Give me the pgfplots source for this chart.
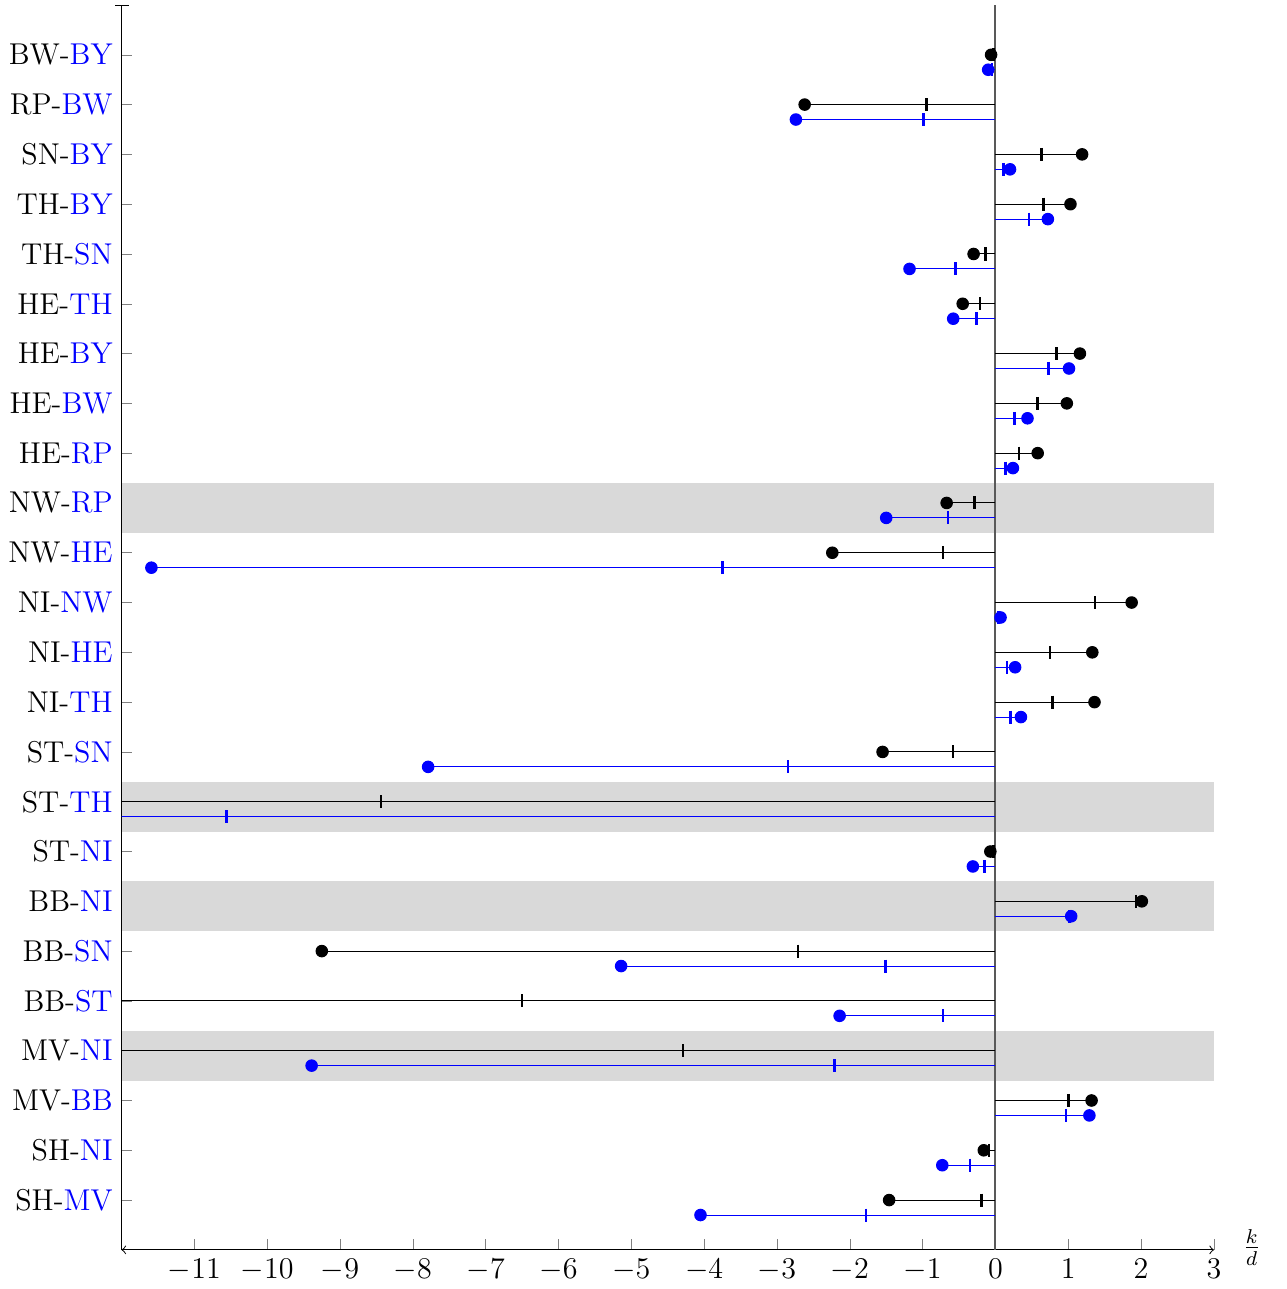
\documentclass[border=0pt]{standalone}
\usepackage{pgfplots}
\usepackage{pgfplotstable}
\pgfplotsset{compat=1.18}

% y: row position, end: value at the dot, mid: value at the short tick
\pgfplotstableread{
y end mid
24 -0.06 -0.03
23 -2.62 -0.95
22 1.19 0.63
21 1.03 0.66
20 -0.30 -0.14
19 -0.45 -0.21
18 1.16 0.84
17 0.98 0.58
16 0.58 0.32
15 -0.67 -0.29
14 -2.24 -0.72
13 1.87 1.37
12 1.33 0.75
11 1.36 0.78
10 -1.55 -0.58
9 -23.0 -8.44
8 -0.07 -0.03
7 2.01 1.93
6 -9.25 -2.71
5 -22.0 -6.50
4 -14.0 -4.29
3 1.32 1.00
2 -0.16 -0.09
1 -1.46 -0.19
}\blackdata

\pgfplotstableread{
y end mid
23.7 -0.10 -0.05
22.7 -2.74 -0.99
21.7 0.20 0.11
20.7 0.72 0.46
19.7 -1.18 -0.55
18.7 -0.58 -0.26
17.7 1.01 0.73
16.7 0.44 0.26
15.7 0.24 0.14
14.7 -1.50 -0.65
13.7 -11.59 -3.75
12.7 0.07 0.04
11.7 0.27 0.16
10.7 0.35 0.21
9.7 -7.79 -2.85
8.7 -29.0 -10.56
7.7 -0.31 -0.15
6.7 1.04 1.02
5.7 -5.14 -1.51
4.7 -2.14 -0.72
3.7 -9.39 -2.21
2.7 1.29 0.97
1.7 -0.73 -0.35
0.7 -4.05 -1.78
}\bluedata

\begin{document}
\begin{tikzpicture}
\begin{axis}[
  scale only axis,
  width=435.6pt, height=496.4pt,
  xmin=-12, xmax=3, ymin=0, ymax=25,
  axis x line=bottom, axis y line=left,
  x axis line style={<->},
  y axis line style={-|},
  tick align=inside,
  major tick style={gray},
  xtick={-11,...,3},
  ytick={1,...,24},
  yticklabels={SH-\textcolor{blue}{MV}, SH-\textcolor{blue}{NI}, MV-\textcolor{blue}{BB},
    MV-\textcolor{blue}{NI}, BB-\textcolor{blue}{ST}, BB-\textcolor{blue}{SN},
    BB-\textcolor{blue}{NI}, ST-\textcolor{blue}{NI}, ST-\textcolor{blue}{TH},
    ST-\textcolor{blue}{SN}, NI-\textcolor{blue}{TH}, NI-\textcolor{blue}{HE},
    NI-\textcolor{blue}{NW}, NW-\textcolor{blue}{HE}, NW-\textcolor{blue}{RP},
    HE-\textcolor{blue}{RP}, HE-\textcolor{blue}{BW}, HE-\textcolor{blue}{BY},
    HE-\textcolor{blue}{TH}, TH-\textcolor{blue}{SN}, TH-\textcolor{blue}{BY},
    SN-\textcolor{blue}{BY}, RP-\textcolor{blue}{BW}, BW-\textcolor{blue}{BY}},
  yticklabel style={font=\large},
  xticklabel style={font=\large},
  xlabel={$\frac{k}{d}$},
  xlabel style={font=\large, at={(axis description cs:1,0)}, anchor=west, xshift=8pt, yshift=1pt},
  after end axis/.code={
    \path (rel axis cs:0,1) ++(0,2pt);
    \path (rel axis cs:1,0) ++(28.8pt,0);
  },
]
% shaded rows
\addplot[draw=none, fill=gray!30, forget plot] coordinates {(-12,14.4) (3,14.4) (3,15.4) (-12,15.4)} -- cycle;
\addplot[draw=none, fill=gray!30, forget plot] coordinates {(-12,8.4) (3,8.4) (3,9.4) (-12,9.4)} -- cycle;
\addplot[draw=none, fill=gray!30, forget plot] coordinates {(-12,6.4) (3,6.4) (3,7.4) (-12,7.4)} -- cycle;
\addplot[draw=none, fill=gray!30, forget plot] coordinates {(-12,3.4) (3,3.4) (3,4.4) (-12,4.4)} -- cycle;

% zero line
\addplot[gray!70!black, line width=0.8pt] coordinates {(0,0) (0,25)};

% black series
\addplot[black, quiver={u=-\thisrow{end}, v=0}] table[x=end, y=y] {\blackdata};
\addplot[black, only marks, mark=|, mark size=2.6pt, mark options={line width=1pt},
  restrict x to domain=-12:3] table[x=mid, y=y] {\blackdata};
\addplot[black, only marks, mark=*, mark size=2.3pt,
  restrict x to domain=-12:3] table[x=end, y=y] {\blackdata};

% blue series
\addplot[blue, quiver={u=-\thisrow{end}, v=0}] table[x=end, y=y] {\bluedata};
\addplot[blue, only marks, mark=|, mark size=2.6pt, mark options={line width=1pt},
  restrict x to domain=-12:3] table[x=mid, y=y] {\bluedata};
\addplot[blue, only marks, mark=*, mark size=2.3pt,
  restrict x to domain=-12:3] table[x=end, y=y] {\bluedata};
\end{axis}
\end{tikzpicture}
\end{document}
